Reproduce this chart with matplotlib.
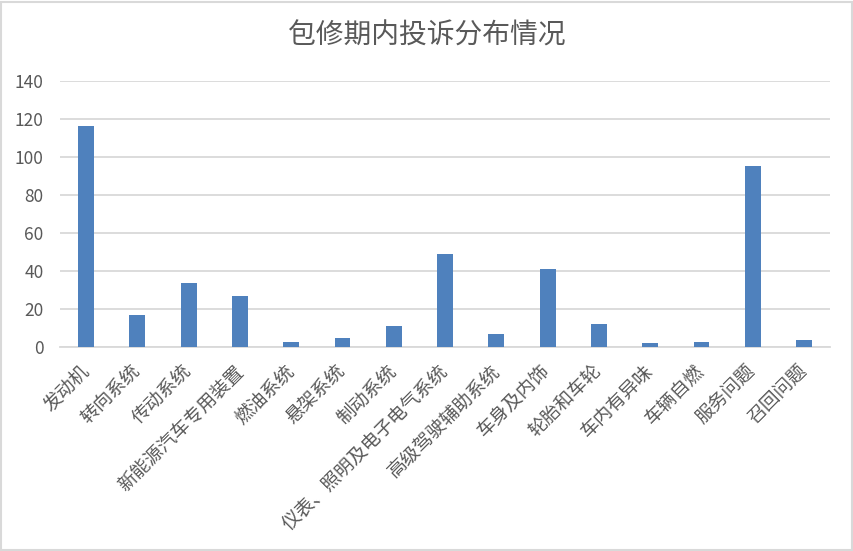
import matplotlib
matplotlib.use("Agg")
import matplotlib.pyplot as plt
from matplotlib.patches import Rectangle

plt.rcParams['font.family'] = ['Noto Sans CJK SC', 'DejaVu Sans']

categories = ["发动机", "转向系统", "传动系统", "新能源汽车专用装置", "燃油系统",
              "悬架系统", "制动系统", "仪表、照明及电子电气系统", "高级驾驶辅助系统",
              "车身及内饰", "轮胎和车轮", "车内有异味", "车辆自燃", "服务问题", "召回问题"]
complaints = [116, 17, 34, 27, 3, 5, 11, 49, 7, 41, 12, 2, 3, 95, 4]
y_ticks = [0, 20, 40, 60, 80, 100, 120, 140]
title = "包修期内投诉分布情况"

bar_color = "#4f81bd"
grid_color = "#d9d9d9"
text_color = "#595959"

fig = plt.figure(figsize=(8.54, 5.51), dpi=100)
ax = fig.add_axes([0.0707, 0.3697, 0.9009, 0.4838])

x = list(range(len(categories)))
ax.bar(x, complaints, width=0.31, color=bar_color, zorder=3)

ax.set_xlim(-0.5, len(categories) - 0.5)
ax.set_ylim(0, 140)
ax.set_yticks(y_ticks)
ax.set_yticklabels([str(v) for v in y_ticks], color=text_color, fontsize=12.5)
ax.yaxis.grid(True, color=grid_color, linewidth=1.3, zorder=0)
ax.set_axisbelow(True)
for side in ("left", "right", "top"):
    ax.spines[side].set_visible(False)
ax.spines["bottom"].set_color(grid_color)
ax.spines["bottom"].set_linewidth(1.3)
ax.tick_params(axis="y", length=0, pad=12)
ax.tick_params(axis="x", length=0, pad=15)

ax.set_xticks(x)
ax.set_xticklabels(categories, rotation=45, ha="right", va="center",
                   rotation_mode="anchor", color=text_color, fontsize=13.5)

fig.text(0.5, 1 - 36 / 551, title, ha="center", va="center",
         fontsize=20, color=text_color)

# light outline round the chart area
fig.patches.append(Rectangle((0.001, 0.002), 0.997, 0.995, transform=fig.transFigure,
                             fill=False, edgecolor=grid_color, linewidth=1.5))

fig.savefig("out.png", dpi=100, facecolor="white")
